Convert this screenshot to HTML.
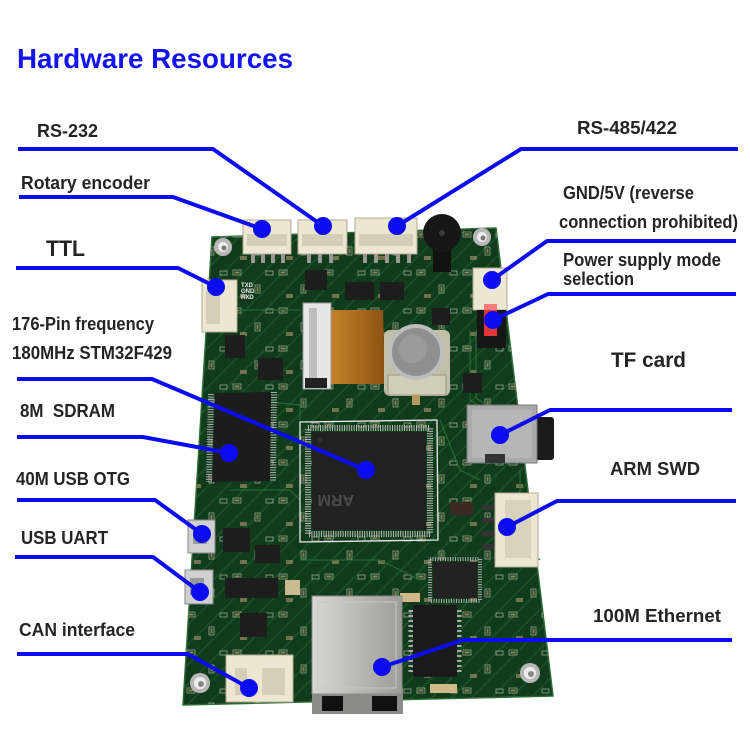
<!DOCTYPE html>
<html><head><meta charset="utf-8"><style>
html,body{margin:0;padding:0;background:#fff;}
svg{display:block;}
text{font-family:"Liberation Sans",Arial,sans-serif;font-weight:bold;fill:#242424;}
</style></head><body>
<svg width="750" height="747" viewBox="0 0 750 747" xmlns="http://www.w3.org/2000/svg">
<defs>
<pattern id="tr" width="14" height="14" patternUnits="userSpaceOnUse" patternTransform="rotate(45)">
<rect width="14" height="14" fill="#113c1c"/>
<rect x="0" y="0" width="1.5" height="14" fill="#1b5126"/>
</pattern>
<pattern id="smd" width="46" height="38" patternUnits="userSpaceOnUse">
<rect x="3" y="4" width="8" height="5" fill="none" stroke="#cfd3c2" stroke-width="0.8"/>
<rect x="4.5" y="5.5" width="5" height="2" fill="#bfa274"/>
<rect x="25" y="19" width="5" height="8" fill="none" stroke="#cfd3c2" stroke-width="0.8"/>
<rect x="26.5" y="20.5" width="2" height="5" fill="#b0946a"/>
<rect x="36" y="5" width="7" height="4" fill="none" stroke="#cfd3c2" stroke-width="0.8"/>
<rect x="10" y="28" width="7" height="4" fill="#9a8a66"/>
</pattern>
<linearGradient id="rj" x1="0" y1="0" x2="1" y2="0">
<stop offset="0" stop-color="#d8d8d2"/><stop offset="1" stop-color="#9c9c98"/>
</linearGradient>
<linearGradient id="rib" x1="0" y1="0" x2="1" y2="0">
<stop offset="0" stop-color="#c9852c"/><stop offset="1" stop-color="#8c5212"/>
</linearGradient>
</defs>

<!-- Title -->
<text x="17" y="68" font-size="28" style="fill:#1414ee" textLength="276" lengthAdjust="spacingAndGlyphs">Hardware Resources</text>

<!-- Board -->
<polygon points="212,237 496,228 553,696 183,705" fill="url(#tr)" stroke="#2b6a35" stroke-width="1.5"/>
<polygon points="212,237 496,228 553,696 183,705" fill="url(#smd)" opacity="0.7"/>
<!-- traces -->
<g stroke="#2a6e36" stroke-width="1.2" fill="none" opacity="0.9">
<polyline points="470,330 470,400 500,420"/>
<polyline points="476,330 476,398 506,418"/>
<polyline points="520,470 520,540 540,560"/>
<polyline points="300,560 380,560 420,580"/>
<polyline points="230,490 290,490 300,500"/>
<polyline points="440,420 460,470 480,480"/>
<polyline points="240,310 300,310"/>
<polyline points="250,400 300,405 300,420"/>
</g>
<!-- silkscreen text -->
<g style="fill:#e8e8e8" font-size="6">
<text x="241" y="287" style="fill:#e8e8e8">TXD</text>
<text x="241" y="293" style="fill:#e8e8e8">GND</text>
<text x="241" y="299" style="fill:#e8e8e8">RXD</text>
</g>

<!-- mounting holes -->
<g>
<circle cx="223" cy="247" r="9" fill="#b8b8b8"/><circle cx="223" cy="247" r="5" fill="#eee"/><circle cx="224" cy="248" r="2.5" fill="#777"/>
<circle cx="482" cy="237" r="9" fill="#b8b8b8"/><circle cx="482" cy="237" r="5" fill="#eee"/><circle cx="483" cy="238" r="2.5" fill="#777"/>
<circle cx="200" cy="683" r="10" fill="#b8b8b8"/><circle cx="200" cy="683" r="6" fill="#eee"/><circle cx="201" cy="684" r="3" fill="#888"/>
<circle cx="530" cy="673" r="10" fill="#b8b8b8"/><circle cx="530" cy="673" r="6" fill="#eee"/><circle cx="531" cy="674" r="3" fill="#888"/>
</g>

<!-- top connectors -->
<g fill="#ece6d2" stroke="#b2aa92" stroke-width="1">
<rect x="243" y="220" width="48" height="34"/>
<rect x="298" y="220" width="49" height="34"/>
<rect x="355" y="218" width="62" height="36"/>
</g>
<g fill="#d6cfb8">
<rect x="247" y="234" width="40" height="12"/>
<rect x="302" y="234" width="41" height="12"/>
<rect x="359" y="234" width="54" height="12"/>
</g>
<g fill="#9a9a92">
<rect x="251" y="254" width="4" height="9"/><rect x="261" y="254" width="4" height="9"/><rect x="271" y="254" width="4" height="9"/><rect x="281" y="254" width="4" height="9"/>
<rect x="307" y="254" width="4" height="9"/><rect x="318" y="254" width="4" height="9"/><rect x="329" y="254" width="4" height="9"/>
<rect x="363" y="254" width="4" height="9"/><rect x="374" y="254" width="4" height="9"/><rect x="385" y="254" width="4" height="9"/><rect x="396" y="254" width="4" height="9"/><rect x="407" y="254" width="4" height="9"/>
</g>

<!-- buzzer -->
<rect x="433" y="246" width="18" height="26" fill="#111"/>
<circle cx="442" cy="233" r="19" fill="#171717"/>
<circle cx="442" cy="233" r="3" fill="#3a3a3a"/>

<!-- TTL connector -->
<rect x="202" y="280" width="35" height="52" fill="#ece6d2" stroke="#b2aa92"/>
<rect x="206" y="290" width="14" height="34" fill="#d6cfb8"/>

<!-- power connector + jumper -->
<rect x="473" y="268" width="34" height="42" fill="#ece6d2" stroke="#b2aa92"/>
<rect x="477" y="310" width="29" height="38" fill="#161616"/>
<rect x="484" y="304" width="13" height="32" fill="#e03838"/>
<rect x="484" y="304" width="13" height="6" fill="#ff7a7a"/>

<!-- FFC & ribbon -->
<polygon points="328,310 383,310 385,384 330,384" fill="url(#rib)"/>
<rect x="303" y="303" width="28" height="86" fill="#e6e6e6" stroke="#999"/>
<rect x="309" y="308" width="8" height="76" fill="#bdbdbd"/>
<rect x="305" y="378" width="22" height="10" fill="#222"/>

<!-- battery -->
<rect x="384" y="330" width="66" height="66" rx="6" fill="#c3bea9"/>
<rect x="388" y="375" width="58" height="20" fill="#d2cdb9" stroke="#9a9582"/>
<circle cx="416" cy="352" r="28" fill="#bdbdbd"/>
<circle cx="416" cy="352" r="24" fill="#8f8f8f"/>
<circle cx="413" cy="349" r="14" fill="#a3a3a3" opacity="0.6"/>
<rect x="412" y="395" width="8" height="10" fill="#b59960"/>

<!-- SDRAM -->
<line x1="211" y1="394" x2="209" y2="482" stroke="#aaa" stroke-width="6" stroke-dasharray="1 1.5"/>
<line x1="274" y1="392" x2="273" y2="481" stroke="#aaa" stroke-width="6" stroke-dasharray="1 1.5"/>
<polygon points="215,393 271,392 270,481 212,482" fill="#1c1c1c"/>

<!-- MCU -->
<polygon points="300,422 437,420 438,540 300,542" fill="none" stroke="#e8e8e8" stroke-width="1.3"/>
<rect x="308" y="428" width="122" height="106" fill="none" stroke="#b8b8b8" stroke-width="6" stroke-dasharray="1 1.4"/>
<rect x="312" y="432" width="114" height="98" fill="#212121"/>
<circle cx="320" cy="440" r="3" fill="#2c2c2c"/>
<text x="390" y="505" font-size="16" style="fill:#4a4a4a" transform="rotate(180 372 500)">ARM</text>

<!-- TF card -->
<rect x="533" y="417" width="21" height="43" rx="3" fill="#1a1a1a"/>
<rect x="467" y="405" width="70" height="58" fill="#aaa" stroke="#777"/>
<rect x="472" y="410" width="60" height="48" fill="#b6b6b6"/>
<rect x="485" y="454" width="20" height="9" fill="#333"/>

<!-- SWD connector -->
<g fill="#333"><rect x="482" y="505" width="15" height="5"/><rect x="482" y="518" width="15" height="5"/><rect x="482" y="531" width="15" height="5"/><rect x="482" y="544" width="15" height="5"/></g>
<rect x="495" y="493" width="43" height="74" fill="#ece6d2" stroke="#b2aa92"/>
<rect x="505" y="500" width="26" height="58" fill="#d9d2bc"/>

<!-- USB micro -->
<rect x="188" y="520" width="27" height="33" fill="#d0d0d0" stroke="#888"/>
<rect x="193" y="528" width="14" height="16" fill="#9a9a9a"/>
<rect x="185" y="570" width="28" height="34" fill="#d0d0d0" stroke="#888"/>
<rect x="190" y="578" width="14" height="17" fill="#9a9a9a"/>

<!-- CAN connector -->
<rect x="226" y="655" width="67" height="47" fill="#ece6d2" stroke="#b2aa92"/>
<path d="M235 668 L247 668 L247 695 L235 695 Z M262 668 L285 668 L285 695 L262 695 Z" fill="#d6cfb8"/>

<!-- small chips -->
<g fill="#1d1d1d">
<rect x="305" y="270" width="22" height="20"/>
<rect x="345" y="282" width="29" height="18"/>
<rect x="380" y="282" width="24" height="18"/>
<rect x="258" y="358" width="25" height="22"/>
<rect x="225" y="335" width="20" height="23"/>
<rect x="463" y="373" width="19" height="20"/>
<rect x="432" y="308" width="18" height="17"/>
<rect x="223" y="528" width="27" height="24"/>
<rect x="255" y="545" width="25" height="18"/>
<rect x="225" y="578" width="53" height="20"/>
<rect x="240" y="613" width="27" height="24"/>
<rect x="450" y="502" width="23" height="13" fill="#3a2a22"/>
</g>
<rect x="285" y="580" width="15" height="15" fill="#c8bb94"/>
<rect x="400" y="593" width="20" height="9" fill="#d2b98a"/>
<rect x="430" y="684" width="27" height="9" fill="#d2b98a"/>

<!-- W5500 -->
<rect x="430" y="559" width="50" height="42" fill="none" stroke="#aaa" stroke-width="4" stroke-dasharray="1 1.5"/>
<rect x="433" y="562" width="44" height="36" fill="#222"/>

<!-- transformer -->
<line x1="411" y1="610" x2="411" y2="672" stroke="#aaa" stroke-width="5" stroke-dasharray="2 3"/>
<line x1="459" y1="610" x2="459" y2="672" stroke="#aaa" stroke-width="5" stroke-dasharray="2 3"/>
<rect x="413" y="605" width="44" height="72" rx="2" fill="#1a1a1a"/>

<!-- RJ45 -->
<rect x="312" y="688" width="91" height="26" fill="#8c8c8a"/>
<rect x="322" y="696" width="21" height="15" fill="#111"/>
<rect x="372" y="696" width="25" height="15" fill="#111"/>
<rect x="312" y="596" width="90" height="98" fill="url(#rj)" stroke="#888"/>
<rect x="318" y="602" width="78" height="86" fill="none" stroke="#c8c8c4" stroke-width="1"/>

<!-- Blue connectors -->
<g stroke="#0c0cf2" stroke-width="4" fill="none" stroke-linejoin="round">
<polyline points="18,149 213,149 323,226"/>
<polyline points="19,197 173,197 262,229"/>
<polyline points="16,268 178,268 216,287"/>
<polyline points="17,379 152,379 366,470"/>
<polyline points="17,437 143,437 229,453"/>
<polyline points="17,500 155,500 202,534"/>
<polyline points="15,557 153,557 200,592"/>
<polyline points="17,654 188,654 249,688"/>
<polyline points="738,149 521,149 397,226"/>
<polyline points="736,241 547,241 492,280"/>
<polyline points="736,294 548,294 493,320"/>
<polyline points="732,410 550,410 500,435"/>
<polyline points="736,501 557,501 507,527"/>
<polyline points="732,640 463,640 382,667"/>
</g>
<g fill="#0c0cf2">
<circle cx="323" cy="226" r="9"/>
<circle cx="262" cy="229" r="9"/>
<circle cx="216" cy="287" r="9"/>
<circle cx="366" cy="470" r="9"/>
<circle cx="229" cy="453" r="9"/>
<circle cx="202" cy="534" r="9"/>
<circle cx="200" cy="592" r="9"/>
<circle cx="249" cy="688" r="9"/>
<circle cx="397" cy="226" r="9"/>
<circle cx="492" cy="280" r="9"/>
<circle cx="493" cy="320" r="9"/>
<circle cx="500" cy="435" r="9"/>
<circle cx="507" cy="527" r="9"/>
<circle cx="382" cy="667" r="9"/>
</g>

<!-- Labels -->
<text x="37" y="137" font-size="18" textLength="61" lengthAdjust="spacingAndGlyphs">RS-232</text>
<text x="21" y="189" font-size="18" textLength="129" lengthAdjust="spacingAndGlyphs">Rotary encoder</text>
<text x="46" y="256" font-size="22" textLength="39" lengthAdjust="spacingAndGlyphs">TTL</text>
<text x="12" y="330" font-size="18" textLength="142" lengthAdjust="spacingAndGlyphs">176-Pin frequency</text>
<text x="12" y="359" font-size="18" textLength="160" lengthAdjust="spacingAndGlyphs">180MHz STM32F429</text>
<text x="20" y="417" font-size="18" textLength="95" lengthAdjust="spacingAndGlyphs">8M&#160; SDRAM</text>
<text x="16" y="485" font-size="18" textLength="114" lengthAdjust="spacingAndGlyphs">40M USB OTG</text>
<text x="21" y="544" font-size="18" textLength="87" lengthAdjust="spacingAndGlyphs">USB UART</text>
<text x="19" y="636" font-size="18" textLength="116" lengthAdjust="spacingAndGlyphs">CAN interface</text>
<text x="577" y="134" font-size="18" textLength="100" lengthAdjust="spacingAndGlyphs">RS-485/422</text>
<text x="563" y="199" font-size="18" textLength="131" lengthAdjust="spacingAndGlyphs">GND/5V (reverse</text>
<text x="559" y="228" font-size="18" textLength="179" lengthAdjust="spacingAndGlyphs">connection prohibited)</text>
<text x="563" y="266" font-size="18" textLength="158" lengthAdjust="spacingAndGlyphs">Power supply mode</text>
<text x="563" y="285" font-size="18" textLength="71" lengthAdjust="spacingAndGlyphs">selection</text>
<text x="611" y="367" font-size="21" textLength="75" lengthAdjust="spacingAndGlyphs">TF card</text>
<text x="610" y="475" font-size="18" textLength="90" lengthAdjust="spacingAndGlyphs">ARM SWD</text>
<text x="593" y="622" font-size="18" textLength="128" lengthAdjust="spacingAndGlyphs">100M Ethernet</text>
</svg>
</body></html>
